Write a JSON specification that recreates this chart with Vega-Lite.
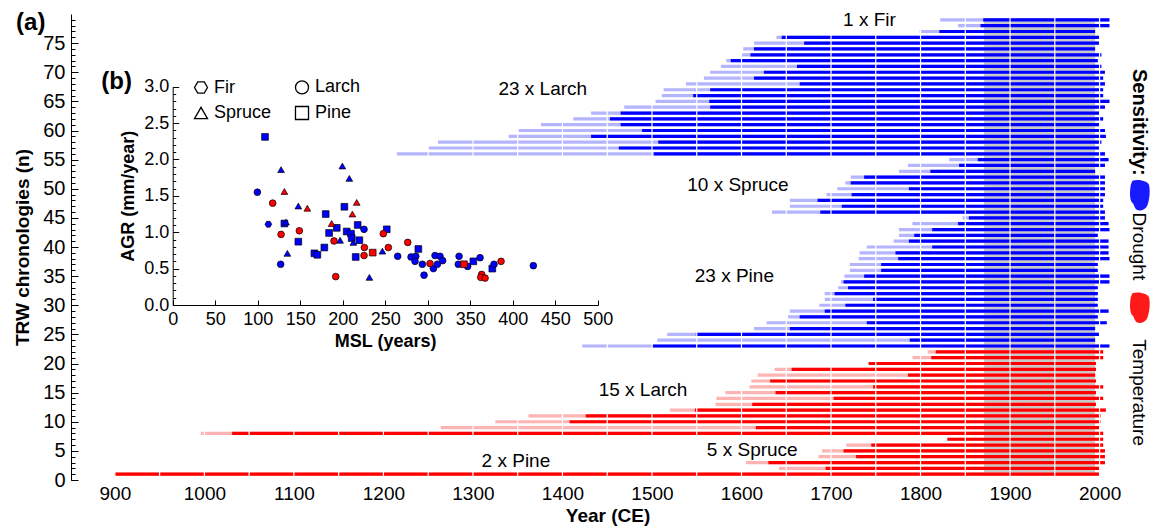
{
  "$schema": "https://vega.github.io/schema/vega-lite/v6.json",
  "autosize": {"type": "none"},
  "padding": {"left": 71, "top": 14, "right": 38, "bottom": 48},
  "width": 1042,
  "height": 466,
  "background": "white",
  "config": {"font": "Liberation Sans", "view": {"stroke": null}},
  "layer": [
    {
      "data": {"values": [{"lo": 0.7}]},
      "mark": {"type": "rule", "opacity": 0},
      "encoding": {
        "y": {"field": "lo", "type": "quantitative", "title": null,
              "scale": {"domain": [0, 80], "nice": false, "zero": false},
              "axis": {"orient": "left", "values": [0,1,2,3,4,5,6,7,8,9,10,11,12,13,14,15,16,17,18,19,20,21,22,23,24,25,26,27,28,29,30,31,32,33,34,35,36,37,38,39,40,41,42,43,44,45,46,47,48,49,50,51,52,53,54,55,56,57,58,59,60,61,62,63,64,65,66,67,68,69,70,71,72,73,74,75,76,77,78,79],
                       "labels": false, "domain": false, "grid": false, "ticks": true,
                       "tickSize": -4, "tickColor": "black", "tickWidth": 1, "title": null, "zindex": 1}}
      }
    },
    {
      "data": {"values": [{"lo": 0.7}]},
      "mark": {"type": "rule", "opacity": 0},
      "encoding": {
        "y": {"field": "lo", "type": "quantitative", "title": "TRW chronologies (n)",
              "scale": {"domain": [0, 80], "nice": false, "zero": false},
              "axis": {"orient": "left", "values": [0,5,10,15,20,25,30,35,40,45,50,55,60,65,70,75],
                       "tickSize": -7, "tickColor": "black", "tickWidth": 1, "domain": true, "domainColor": "black", "domainWidth": 1,
                       "grid": false, "labelFontSize": 20, "labelColor": "black", "labelPadding": 13,
                       "labelOverlap": false, "labelBound": false, "labelFlush": false,
                       "titleFontSize": 19, "titleFontWeight": "bold", "titleColor": "black",
                       "titlePadding": 10, "zindex": 1}}
      }
    },
    {
      "data": {"values": [
        {"n":79,"sens":"Drought","L":1822,"D":1870,"E":2011},
        {"n":78,"sens":"Drought","L":1842,"D":1867,"E":2011},
        {"n":77,"sens":"Drought","L":1799,"D":1821,"E":1995},
        {"n":76,"sens":"Drought","L":1639,"D":1645,"E":2000},
        {"n":75,"sens":"Drought","L":1614,"D":1670,"E":2000},
        {"n":74,"sens":"Drought","L":1602,"D":1614,"E":1995},
        {"n":73,"sens":"Drought","L":1600,"D":1610,"E":2002},
        {"n":72,"sens":"Drought","L":1583,"D":1588,"E":1998},
        {"n":71,"sens":"Drought","L":1577,"D":1662,"E":2002},
        {"n":70,"sens":"Drought","L":1565,"D":1625,"E":2006},
        {"n":69,"sens":"Drought","L":1558,"D":1614,"E":2004},
        {"n":68,"sens":"Drought","L":1538,"D":1665,"E":2006},
        {"n":67,"sens":"Drought","L":1513,"D":1565,"E":2004},
        {"n":66,"sens":"Drought","L":1511,"D":1546,"E":2004},
        {"n":65,"sens":"Drought","L":1504,"D":1564,"E":2011},
        {"n":64,"sens":"Drought","L":1469,"D":1565,"E":2006},
        {"n":63,"sens":"Drought","L":1432,"D":1465,"E":2000},
        {"n":62,"sens":"Drought","L":1412,"D":1453,"E":2004},
        {"n":61,"sens":"Drought","L":1376,"D":1465,"E":2000},
        {"n":60,"sens":"Drought","L":1351,"D":1489,"E":2006},
        {"n":59,"sens":"Drought","L":1340,"D":1432,"E":2007},
        {"n":58,"sens":"Drought","L":1261,"D":1507,"E":2002},
        {"n":57,"sens":"Drought","L":1250,"D":1463,"E":2000},
        {"n":56,"sens":"Drought","L":1215,"D":1502,"E":2006},
        {"n":55,"sens":"Drought","L":1832,"D":1864,"E":2010},
        {"n":54,"sens":"Drought","L":1786,"D":1843,"E":2006},
        {"n":53,"sens":"Drought","L":1776,"D":1811,"E":1995},
        {"n":52,"sens":"Drought","L":1722,"D":1737,"E":2006},
        {"n":51,"sens":"Drought","L":1716,"D":1722,"E":2006},
        {"n":50,"sens":"Drought","L":1707,"D":1787,"E":2006},
        {"n":49,"sens":"Drought","L":1695,"D":1723,"E":2006},
        {"n":48,"sens":"Drought","L":1654,"D":1685,"E":2004},
        {"n":47,"sens":"Drought","L":1654,"D":1712,"E":2004},
        {"n":46,"sens":"Drought","L":1634,"D":1688,"E":2006},
        {"n":45,"sens":"Drought","L":1847,"D":1854,"E":2006},
        {"n":44,"sens":"Drought","L":1791,"D":1842,"E":2010},
        {"n":43,"sens":"Drought","L":1776,"D":1813,"E":2011},
        {"n":42,"sens":"Drought","L":1776,"D":1793,"E":1998},
        {"n":41,"sens":"Drought","L":1770,"D":1787,"E":2010},
        {"n":40,"sens":"Drought","L":1740,"D":1813,"E":2010},
        {"n":39,"sens":"Drought","L":1732,"D":1772,"E":2010},
        {"n":38,"sens":"Drought","L":1731,"D":1775,"E":2011},
        {"n":37,"sens":"Drought","L":1721,"D":1756,"E":1998},
        {"n":36,"sens":"Drought","L":1721,"D":1756,"E":1998},
        {"n":35,"sens":"Drought","L":1715,"D":1737,"E":2011},
        {"n":34,"sens":"Drought","L":1711,"D":1714,"E":2011},
        {"n":33,"sens":"Drought","L":1708,"D":1719,"E":1998},
        {"n":32,"sens":"Drought","L":1693,"D":1704,"E":1998},
        {"n":31,"sens":"Drought","L":1693,"D":1747,"E":1998},
        {"n":30,"sens":"Drought","L":1687,"D":1716,"E":1998},
        {"n":29,"sens":"Drought","L":1654,"D":1693,"E":2010},
        {"n":28,"sens":"Drought","L":1652,"D":1665,"E":1998},
        {"n":27,"sens":"Drought","L":1628,"D":1740,"E":2008},
        {"n":26,"sens":"Drought","L":1614,"D":1654,"E":1995},
        {"n":25,"sens":"Drought","L":1517,"D":1549,"E":2000},
        {"n":24,"sens":"Drought","L":1506,"D":1788,"E":1995},
        {"n":23,"sens":"Drought","L":1422,"D":1501,"E":2011},
        {"n":22,"sens":"Temperature","L":1808,"D":1817,"E":2004},
        {"n":21,"sens":"Temperature","L":1791,"D":1812,"E":2004},
        {"n":20,"sens":"Temperature","L":1742,"D":1742,"E":1996},
        {"n":19,"sens":"Temperature","L":1637,"D":1656,"E":1996},
        {"n":18,"sens":"Temperature","L":1618,"D":1786,"E":1995},
        {"n":17,"sens":"Temperature","L":1611,"D":1632,"E":1996},
        {"n":16,"sens":"Temperature","L":1609,"D":1747,"E":2004},
        {"n":15,"sens":"Temperature","L":1582,"D":1638,"E":1996},
        {"n":14,"sens":"Temperature","L":1572,"D":1703,"E":2004},
        {"n":13,"sens":"Temperature","L":1571,"D":1612,"E":1996},
        {"n":12,"sens":"Temperature","L":1520,"D":1548,"E":2007},
        {"n":11,"sens":"Temperature","L":1362,"D":1426,"E":2001},
        {"n":10,"sens":"Temperature","L":1325,"D":1408,"E":2001},
        {"n":9,"sens":"Temperature","L":1264,"D":1616,"E":2000},
        {"n":8,"sens":"Temperature","L":996,"D":1031,"E":2004},
        {"n":7,"sens":"Temperature","L":1830,"D":1830,"E":2004},
        {"n":6,"sens":"Temperature","L":1717,"D":1745,"E":2004},
        {"n":5,"sens":"Temperature","L":1690,"D":1714,"E":2006},
        {"n":4,"sens":"Temperature","L":1686,"D":1728,"E":2006},
        {"n":3,"sens":"Temperature","L":1605,"D":1630,"E":2006},
        {"n":2,"sens":"Temperature","L":1642,"D":1694,"E":2000},
        {"n":1,"sens":"Temperature","L":900,"D":900,"E":2000}
      ]},
      "resolve": {"scale": {"color": "independent"}},
      "layer": [
        {
          "data": {"values": [{"from": 1871, "to": 1995, "lo": 0.7, "hi": 79.3}]},
          "mark": {"type": "rect", "color": "#c8c8c8"},
          "encoding": {
            "x": {"field": "from", "type": "quantitative", "title": "Year (CE)"},
            "x2": {"field": "to"},
            "y": {"field": "lo", "type": "quantitative", "axis": null},
            "y2": {"field": "hi"}
          }
        },
        {
          "mark": {"type": "rule", "strokeWidth": 3.2},
          "encoding": {
            "x": {"field": "L", "type": "quantitative", "title": "Year (CE)",
                  "scale": {"domain": [851, 2015], "nice": false, "zero": false},
                  "axis": {"values": [900,1000,1100,1200,1300,1400,1500,1600,1700,1800,1900,2000],
                           "format": "d",
                           "domain": false, "ticks": false, "grid": false, "labelFlush": false,
                           "labelFontSize": 19, "labelColor": "black", "labelPadding": 4,
                           "titleFontSize": 19, "titleFontWeight": "bold", "titleColor": "black",
                           "titlePadding": 3, "titleX": 536.5, "zindex": 1}},
            "x2": {"field": "E"},
            "y": {"field": "n", "type": "quantitative", "axis": null,
                  "scale": {"domain": [0, 80], "nice": false, "zero": false}},
            "color": {"field": "sens", "type": "nominal", "legend": null,
                      "scale": {"domain": ["Drought", "Temperature"], "range": ["#b4b4ff", "#ffb4b4"]}}
          }
        },
        {
          "mark": {"type": "rule", "strokeWidth": 3.2},
          "encoding": {
            "x": {"field": "D", "type": "quantitative", "title": "Year (CE)"},
            "x2": {"field": "E"},
            "y": {"field": "n", "type": "quantitative", "axis": null},
            "color": {"field": "sens", "type": "nominal", "legend": null,
                      "scale": {"domain": ["Drought", "Temperature"], "range": ["#0000ff", "#ff0000"]}}
          }
        },
        {
          "data": {"values": [{"yr":900},{"yr":950},{"yr":1000},{"yr":1050},{"yr":1100},{"yr":1150},{"yr":1200},{"yr":1250},{"yr":1300},{"yr":1350},{"yr":1400},{"yr":1450},{"yr":1500},{"yr":1550},{"yr":1600},{"yr":1650},{"yr":1700},{"yr":1750},{"yr":1800},{"yr":1850},{"yr":1900},{"yr":1950},{"yr":2000}]},
          "mark": {"type": "rule", "color": "white", "strokeWidth": 1.2},
          "encoding": {
            "x": {"field": "yr", "type": "quantitative", "title": "Year (CE)"},
            "y": {"datum": 0.7, "type": "quantitative", "axis": null},
            "y2": {"datum": 79.3}
          }
        },
        {
          "data": {"values": [
            {"label": "1 x Fir", "yr": 1743, "n": 79},
            {"label": "23 x Larch", "yr": 1378, "n": 67.1},
            {"label": "10 x Spruce", "yr": 1596, "n": 50.7},
            {"label": "23 x Pine", "yr": 1592, "n": 35.1},
            {"label": "15 x Larch", "yr": 1490, "n": 15.5},
            {"label": "5 x Spruce", "yr": 1612, "n": 5.15},
            {"label": "2 x Pine", "yr": 1348, "n": 3.3}
          ]},
          "mark": {"type": "text", "fontSize": 19, "color": "black", "align": "center", "baseline": "middle"},
          "encoding": {
            "x": {"field": "yr", "type": "quantitative", "title": "Year (CE)"},
            "y": {"field": "n", "type": "quantitative", "axis": null},
            "text": {"field": "label"}
          }
        },
        {
          "data": {"values": [
            {"label": "(a)", "yr": 806, "n": 78.5},
            {"label": "(b)", "yr": 902, "n": 68.3}
          ]},
          "mark": {"type": "text", "fontSize": 24, "fontWeight": "bold", "color": "black", "align": "center", "baseline": "middle"},
          "encoding": {
            "x": {"field": "yr", "type": "quantitative", "title": "Year (CE)"},
            "y": {"field": "n", "type": "quantitative", "axis": null},
            "text": {"field": "label"}
          }
        },
        {
          "data": {"values": [{"label": "Sensitivity:", "n": 61.4}]},
          "mark": {"type": "text", "fontSize": 20, "fontWeight": "bold", "color": "black", "angle": 90, "align": "center", "baseline": "middle"},
          "encoding": {
            "x": {"datum": 2044.6, "type": "quantitative", "title": "Year (CE)"},
            "y": {"field": "n", "type": "quantitative", "axis": null},
            "text": {"field": "label"}
          }
        },
        {
          "data": {"values": [{"label": "Drought", "n": 40.1}, {"label": "Temperature", "n": 15.0}]},
          "mark": {"type": "text", "fontSize": 19, "color": "black", "angle": 90, "align": "center", "baseline": "middle"},
          "encoding": {
            "x": {"datum": 2044.6, "type": "quantitative", "title": "Year (CE)"},
            "y": {"field": "n", "type": "quantitative", "axis": null},
            "text": {"field": "label"}
          }
        },
        {
          "data": {"values": [{"sens": "Drought", "n": 48.8}, {"sens": "Temperature", "n": 29.5}]},
          "mark": {"type": "point", "filled": true, "opacity": 1, "size": 1000,
                   "shape": "M-0.45,-0.95 C-0.1,-1.05 0.45,-0.95 0.6,-0.7 C0.7,-0.3 0.62,0.3 0.5,0.6 C0.4,0.85 0.1,1 -0.15,0.9 C-0.35,0.8 -0.3,0.55 -0.5,0.4 C-0.65,0.1 -0.6,-0.4 -0.55,-0.7 Z"},
          "encoding": {
            "x": {"datum": 2044.6, "type": "quantitative", "title": "Year (CE)"},
            "y": {"field": "n", "type": "quantitative", "axis": null},
            "color": {"field": "sens", "type": "nominal", "legend": null,
                      "scale": {"domain": ["Drought", "Temperature"], "range": ["#1a1aff", "#ff1a1a"]}}
          }
        }
      ]
    },
    {
      "data": {"values": [
        {"msl":108.6,"agr":2.31,"sp":"Pine","sens":"Drought"},
        {"msl":131.4,"agr":1.12,"sp":"Pine","sens":"Drought"},
        {"msl":147.8,"agr":0.87,"sp":"Pine","sens":"Drought"},
        {"msl":180,"agr":1.25,"sp":"Pine","sens":"Drought"},
        {"msl":184,"agr":0.99,"sp":"Pine","sens":"Drought"},
        {"msl":193,"agr":1.06,"sp":"Pine","sens":"Drought"},
        {"msl":202,"agr":1.35,"sp":"Pine","sens":"Drought"},
        {"msl":204.7,"agr":1.01,"sp":"Pine","sens":"Drought"},
        {"msl":209.8,"agr":0.98,"sp":"Pine","sens":"Drought"},
        {"msl":210.6,"agr":0.92,"sp":"Pine","sens":"Drought"},
        {"msl":215.3,"agr":0.66,"sp":"Pine","sens":"Drought"},
        {"msl":217.6,"agr":1.10,"sp":"Pine","sens":"Drought"},
        {"msl":219.6,"agr":0.89,"sp":"Pine","sens":"Drought"},
        {"msl":166.7,"agr":0.71,"sp":"Pine","sens":"Drought"},
        {"msl":170.2,"agr":0.69,"sp":"Pine","sens":"Drought"},
        {"msl":178.4,"agr":0.79,"sp":"Pine","sens":"Drought"},
        {"msl":251.8,"agr":1.04,"sp":"Pine","sens":"Drought"},
        {"msl":289,"agr":0.77,"sp":"Pine","sens":"Drought"},
        {"msl":353.7,"agr":0.60,"sp":"Pine","sens":"Drought"},
        {"msl":376,"agr":0.50,"sp":"Pine","sens":"Drought"},
        {"msl":127.5,"agr":1.86,"sp":"Spruce","sens":"Drought"},
        {"msl":133.3,"agr":1.14,"sp":"Spruce","sens":"Drought"},
        {"msl":134.9,"agr":0.71,"sp":"Spruce","sens":"Drought"},
        {"msl":147.8,"agr":1.36,"sp":"Spruce","sens":"Drought"},
        {"msl":199.6,"agr":1.91,"sp":"Spruce","sens":"Drought"},
        {"msl":207.8,"agr":1.74,"sp":"Spruce","sens":"Drought"},
        {"msl":196.9,"agr":0.89,"sp":"Spruce","sens":"Drought"},
        {"msl":212.5,"agr":0.86,"sp":"Spruce","sens":"Drought"},
        {"msl":246.7,"agr":0.74,"sp":"Spruce","sens":"Drought"},
        {"msl":231.4,"agr":0.38,"sp":"Spruce","sens":"Drought"},
        {"msl":99.6,"agr":1.55,"sp":"Larch","sens":"Drought"},
        {"msl":127,"agr":0.56,"sp":"Larch","sens":"Drought"},
        {"msl":225.1,"agr":1.04,"sp":"Larch","sens":"Drought"},
        {"msl":264.7,"agr":0.67,"sp":"Larch","sens":"Drought"},
        {"msl":280.4,"agr":0.66,"sp":"Larch","sens":"Drought"},
        {"msl":286,"agr":0.67,"sp":"Larch","sens":"Drought"},
        {"msl":285.1,"agr":0.60,"sp":"Larch","sens":"Drought"},
        {"msl":293.7,"agr":0.56,"sp":"Larch","sens":"Drought"},
        {"msl":295.7,"agr":0.41,"sp":"Larch","sens":"Drought"},
        {"msl":306.7,"agr":0.50,"sp":"Larch","sens":"Drought"},
        {"msl":308.6,"agr":0.68,"sp":"Larch","sens":"Drought"},
        {"msl":311.4,"agr":0.56,"sp":"Larch","sens":"Drought"},
        {"msl":314.5,"agr":0.67,"sp":"Larch","sens":"Drought"},
        {"msl":317.6,"agr":0.61,"sp":"Larch","sens":"Drought"},
        {"msl":336.9,"agr":0.67,"sp":"Larch","sens":"Drought"},
        {"msl":336,"agr":0.56,"sp":"Larch","sens":"Drought"},
        {"msl":347,"agr":0.53,"sp":"Larch","sens":"Drought"},
        {"msl":361.6,"agr":0.65,"sp":"Larch","sens":"Drought"},
        {"msl":378,"agr":0.56,"sp":"Larch","sens":"Drought"},
        {"msl":424.3,"agr":0.54,"sp":"Larch","sens":"Drought"},
        {"msl":112.5,"agr":1.11,"sp":"Fir","sens":"Drought"},
        {"msl":117.6,"agr":1.40,"sp":"Larch","sens":"Temperature"},
        {"msl":127.5,"agr":0.97,"sp":"Larch","sens":"Temperature"},
        {"msl":149,"agr":1.02,"sp":"Larch","sens":"Temperature"},
        {"msl":189.8,"agr":0.88,"sp":"Larch","sens":"Temperature"},
        {"msl":191.8,"agr":0.39,"sp":"Larch","sens":"Temperature"},
        {"msl":225.5,"agr":0.79,"sp":"Larch","sens":"Temperature"},
        {"msl":225.1,"agr":0.68,"sp":"Larch","sens":"Temperature"},
        {"msl":247.8,"agr":0.98,"sp":"Larch","sens":"Temperature"},
        {"msl":253.7,"agr":0.79,"sp":"Larch","sens":"Temperature"},
        {"msl":276.5,"agr":0.86,"sp":"Larch","sens":"Temperature"},
        {"msl":302.7,"agr":0.57,"sp":"Larch","sens":"Temperature"},
        {"msl":363.5,"agr":0.42,"sp":"Larch","sens":"Temperature"},
        {"msl":362.4,"agr":0.38,"sp":"Larch","sens":"Temperature"},
        {"msl":367.5,"agr":0.37,"sp":"Larch","sens":"Temperature"},
        {"msl":386.3,"agr":0.60,"sp":"Larch","sens":"Temperature"},
        {"msl":131.4,"agr":1.56,"sp":"Spruce","sens":"Temperature"},
        {"msl":158.4,"agr":1.33,"sp":"Spruce","sens":"Temperature"},
        {"msl":187,"agr":1.12,"sp":"Spruce","sens":"Temperature"},
        {"msl":211.4,"agr":1.25,"sp":"Spruce","sens":"Temperature"},
        {"msl":216.5,"agr":1.41,"sp":"Spruce","sens":"Temperature"},
        {"msl":235.3,"agr":0.72,"sp":"Pine","sens":"Temperature"},
        {"msl":342.7,"agr":0.56,"sp":"Pine","sens":"Temperature"}
      ]},
      "mark": {"type": "point", "filled": true, "opacity": 1, "size": 45, "stroke": "black", "strokeWidth": 0.7},
      "encoding": {
        "x": {"field": "msl", "type": "quantitative", "title": "MSL (years)",
              "scale": {"domain": [0, 500], "range": [101.7, 526.7], "nice": false, "zero": false},
              "axis": {"orient": "bottom", "offset": -175, "values": [0,50,100,150,200,250,300,350,400,450,500],
                       "tickSize": -5, "tickColor": "black", "domainColor": "black", "grid": false,
                       "labelFontSize": 18, "labelColor": "black", "labelPadding": 10, "labelFlush": false,
                       "titleFontSize": 18, "titleFontWeight": "bold", "titleColor": "black", "titlePadding": 4, "zindex": 1}},
        "y": {"field": "agr", "type": "quantitative", "title": "AGR (mm/year)",
              "scale": {"domain": [0, 3], "range": [291, 72.7], "nice": false, "zero": false},
              "axis": {"orient": "left", "offset": -101.7,
                       "values": [0,0.1,0.2,0.3,0.4,0.5,0.6,0.7,0.8,0.9,1.0,1.1,1.2,1.3,1.4,1.5,1.6,1.7,1.8,1.9,2.0,2.1,2.2,2.3,2.4,2.5,2.6,2.7,2.8,2.9,3.0],
                       "labelExpr": "round(datum.value*10) % 5 === 0 ? format(datum.value, '.1f') : ''",
                       "tickSize": {"condition": {"test": "round(datum.value*10) % 5 === 0", "value": -6}, "value": -3},
                       "tickColor": "black", "domainColor": "black", "grid": false,
                       "labelFontSize": 18, "labelColor": "black", "labelPadding": 10, "labelOverlap": false, "labelFlush": false,
                       "titleFontSize": 18, "titleFontWeight": "bold", "titleColor": "black", "titlePadding": 6, "zindex": 1}},
        "color": {"field": "sens", "type": "nominal", "legend": null,
                  "scale": {"domain": ["Drought", "Temperature"], "range": ["#0000ff", "#ff0000"]}},
        "shape": {"field": "sp", "type": "nominal",
                  "scale": {"domain": ["Fir", "Larch", "Spruce", "Pine"],
                            "range": ["M-1,0L-0.5,-0.866L0.5,-0.866L1,0L0.5,0.866L-0.5,0.866Z", "circle", "triangle-up", "square"]},
                  "legend": {"orient": "none", "legendX": 121, "legendY": 64, "direction": "horizontal", "columns": 2,
                             "title": null, "labelFontSize": 18, "labelColor": "black", "symbolSize": 170,
                             "symbolFillColor": "transparent", "symbolStrokeColor": "black", "symbolStrokeWidth": 1.3,
                             "rowPadding": 6, "columnPadding": 20, "labelOffset": 4, "padding": 0}}
      }
    }
  ],
  "resolve": {
    "scale": {"x": "independent", "y": "independent", "color": "independent", "shape": "independent"},
    "axis": {"x": "independent", "y": "independent"}
  }
}
